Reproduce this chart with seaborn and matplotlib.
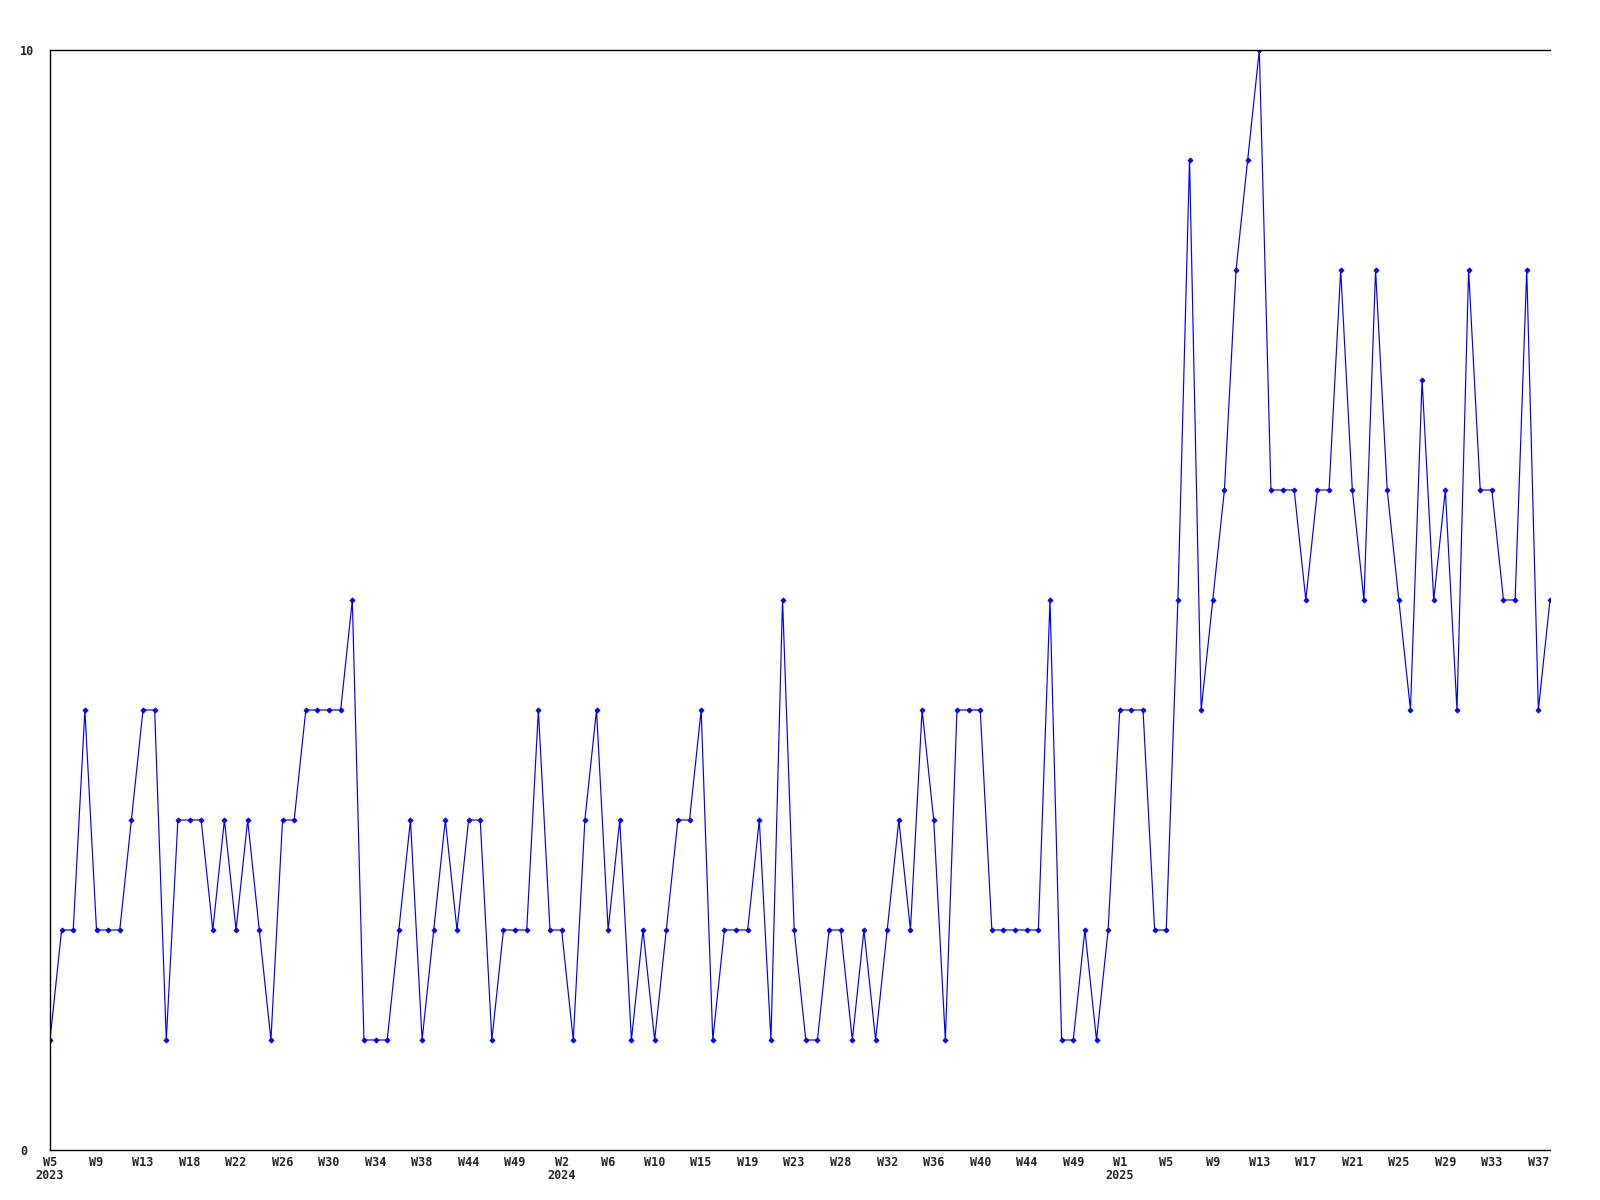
import numpy as np
import pandas as pd
import matplotlib
matplotlib.use('Agg')
import matplotlib.pyplot as plt
import seaborn as sns

# weekly counts, one value per sample point (130 points)
counts = [
    1, 2, 2, 4, 2, 2, 2, 3, 4, 4, 1, 3, 3, 3, 2, 3, 2, 3, 2, 1,
    3, 3, 4, 4, 4, 4, 5, 1, 1, 1, 2, 3,
    1, 2, 3, 2, 3, 3, 1, 2, 2, 2, 4, 2, 2, 1, 3, 4, 2, 3,
    1, 2, 1, 2, 3, 3, 4, 1, 2, 2, 2, 3, 1, 5, 2, 1, 1,
    2, 2, 1, 2, 1, 2, 3, 2, 4, 3, 1, 4, 4, 4, 2, 2, 2, 2,
    2, 5, 1, 1, 2, 1, 2, 4, 4, 4, 2, 2, 5,
    9, 4, 5, 6, 8, 9, 10, 6, 6, 6, 5, 6, 6, 8, 6, 5, 8, 6,
    5, 4, 7, 5, 6, 4, 8, 6, 6, 5, 5, 8, 4, 5,
]

# every 4th point gets a week label
week_labels = [
    'W5', 'W9', 'W13', 'W18', 'W22', 'W26', 'W30', 'W34', 'W38', 'W44', 'W49',
    'W2', 'W6', 'W10', 'W15', 'W19', 'W23', 'W28', 'W32', 'W36', 'W40', 'W44',
    'W49', 'W1', 'W5', 'W9', 'W13', 'W17', 'W21', 'W25', 'W29', 'W33', 'W37',
]
year_marks = {'W5': '2023', 'W2': '2024', 'W1': '2025'}
y_ticks = [0, 10]

df = pd.DataFrame({'idx': np.arange(len(counts)), 'count': counts})

sns.set_theme(style='white')
plt.rcParams['font.family'] = ['DejaVu Sans Mono', 'DejaVu Sans']

fig = plt.figure(figsize=(16, 12), dpi=100)
ax = fig.add_axes([0.03125, 0.04167, 0.9375, 0.91667])

sns.lineplot(data=df, x='idx', y='count', ax=ax, color='#0000ff',
             linewidth=0.85, marker='D', markersize=2.6,
             markeredgecolor='#0000ff', markerfacecolor='#0000ff',
             markeredgewidth=0.6)

ax.set_xlim(0, len(counts) - 1)
ax.set_ylim(0, 10)

# tick labels, year under the first week of each year
seen = set()
labels = []
for w in week_labels:
    yr = year_marks.get(w)
    if yr and yr not in seen:
        seen.add(yr)
        labels.append(w + '\n' + yr)
    else:
        labels.append(w)
ax.set_xticks(np.arange(0, len(counts), 4)[:len(week_labels)])
ax.set_xticklabels(labels, fontsize=8.5, fontweight='bold', linespacing=1.0)
ax.set_yticks(y_ticks)
ax.set_yticklabels([str(v) for v in y_ticks], fontsize=8.5, fontweight='bold')
for lbl in ax.get_yticklabels():
    lbl.set_horizontalalignment('left')
ax.tick_params(axis='y', length=0, pad=21.6)
ax.tick_params(axis='x', length=0, pad=4)

ax.set_xlabel('')
ax.set_ylabel('')
ax.grid(False)
for side in ['left', 'bottom', 'top']:
    ax.spines[side].set_visible(True)
    ax.spines[side].set_color('black')
    ax.spines[side].set_linewidth(1.0)
ax.spines['right'].set_visible(False)

fig.savefig('out.png', dpi=100, facecolor='white')
plt.close(fig)
